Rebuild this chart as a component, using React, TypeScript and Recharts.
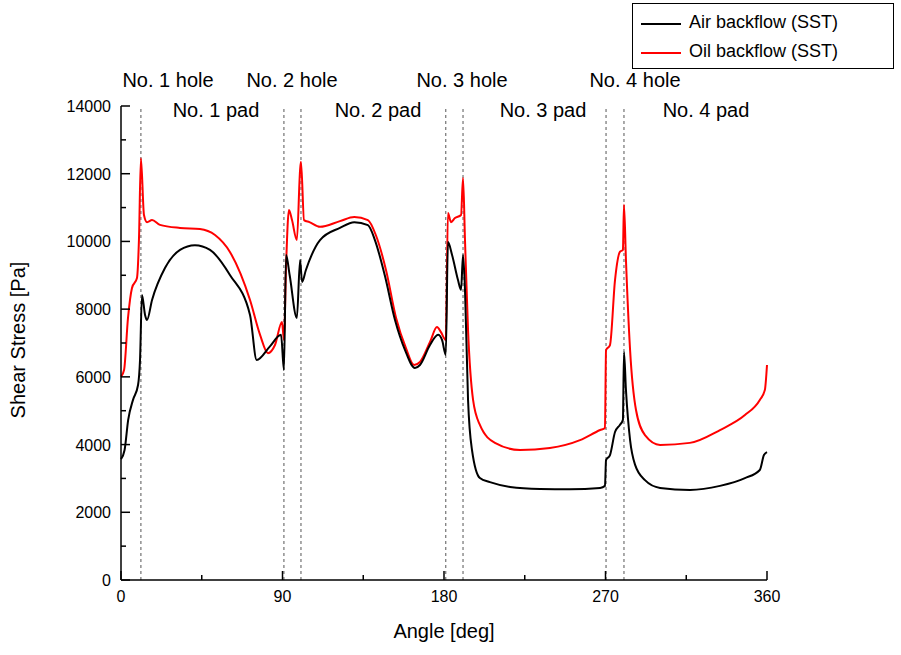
import React from "react";
import { LineChart, Line, XAxis, YAxis, ReferenceLine } from "recharts";

const airAngle = [0,2,4,6.7,9.5,10.6,11.7,13.4,14.5,17.3,24.5,32.9,41.2,49.6,60.7,71.9,75.6,83,89.2,90.8,92,94,98,99.8,100.9,103,110.9,122,130,137.6,141.5,147,152.7,158.3,163.8,166.6,172.2,176.7,178.9,181,182.2,184.5,187.8,189.5,190.6,191.7,193.4,195.6,200,205.6,216.8,233.5,250.2,267,269.7,270.3,272.5,275.3,278,279.7,280.3,281.4,283.7,286.5,292,300.4,317,333.8,347.7,356,358.3,360];
const airStress = [3570,3840,4730,5320,5760,6500,8420,7830,7680,8270,9215,9750,9890,9750,9010,7830,6500,6900,7240,6200,9600,9000,7740,9450,8800,9150,10040,10400,10570,10480,10040,9000,7680,6790,6260,6350,6940,7240,7090,6650,9980,9600,8860,8570,9600,8570,5320,3840,3010,2890,2750,2690,2680,2720,2780,3540,3690,4370,4580,4730,6730,5610,4130,3400,2950,2720,2660,2780,3010,3250,3690,3780];
const oilAngle = [0,1.7,3.9,6.1,8.9,10,11.1,12.8,14.5,17.3,21.7,32.9,44,52.4,60.7,71.9,77.5,81.9,85.8,89.7,90.8,92,93.6,95.3,98,99.8,100.3,102,105,110.9,122,130,137.6,142,147.7,153.3,158.8,163.3,166.6,172.2,176.1,178.3,181,182.2,183.9,186.1,189.5,190.6,191.7,193.4,196.2,200,208.4,222.4,239,255.8,267,269.7,270.3,272.5,275.3,278,279.7,280.3,281.4,283.7,287,292,300.4,317,333.8,347.7,356,358.8,360];
const oilStress = [6000,6200,7740,8620,8920,10040,12460,10780,10570,10630,10490,10400,10370,10190,9690,8270,7240,6700,6940,7620,7090,9300,10930,10630,10040,12110,12350,10630,10570,10430,10600,10720,10630,10190,9150,7740,6850,6350,6440,7030,7470,7320,7090,10840,10570,10690,10780,11870,10040,7380,5320,4580,4050,3840,3900,4130,4430,4490,6790,6940,8860,9690,9750,11080,9450,6790,5020,4280,3990,4050,4430,4870,5320,5610,6350];
const holeAngles = [11.1, 90.8, 100.3, 181, 190.6, 270.3, 280.3];
const xTicks = [0,45,90,135,180,225,270,315,360];
const xLabels = [0,90,180,270,360];
const yTicks = Array.from({ length: 15 }, (_, i) => i * 1000);
const holeLabels = [{ t: "No. 1 hole", x: 168 }, { t: "No. 2 hole", x: 292 }, { t: "No. 3 hole", x: 462 }, { t: "No. 4 hole", x: 635 }];
const padLabels = [{ t: "No. 1 pad", x: 216 }, { t: "No. 2 pad", x: 378 }, { t: "No. 3 pad", x: 543 }, { t: "No. 4 pad", x: 706 }];

const airData = airAngle.map((a, i) => ({ a, v: airStress[i] }));
const oilData = oilAngle.map((a, i) => ({ a, v: oilStress[i] }));
const FONT = "'Liberation Sans', Arial, sans-serif";

const XTick = (p: any) => {
  const v = p.payload.value;
  const major = xLabels.includes(v);
  const y0 = p.y - 8;
  return (
    <g>
      <line x1={p.x} x2={p.x} y1={y0} y2={y0 - (major ? 9 : 5)} stroke="#000" strokeWidth={1.5} />
      {major && <text x={p.x} y={y0 + 22} textAnchor="middle" fontSize={16} fontFamily={FONT} fill="#000">{v}</text>}
    </g>
  );
};
const YTick = (p: any) => {
  const v = p.payload.value;
  const major = v % 2000 === 0;
  const x0 = p.x + 8;
  return (
    <g>
      <line x1={x0} x2={x0 + (major ? 9 : 5)} y1={p.y} y2={p.y} stroke="#000" strokeWidth={1.5} />
      {major && <text x={x0 - 10} y={p.y + 6} textAnchor="end" fontSize={16} fontFamily={FONT} fill="#000">{v}</text>}
    </g>
  );
};

export default function App() {
  const lbl: React.CSSProperties = { position: "absolute", fontFamily: FONT, fontSize: 20, transform: "translateX(-50%)", whiteSpace: "nowrap" };
  return (
    <div style={{ position: "absolute", left: 0, top: 0, width: 901, height: 655, background: "#fff" }}>
      <LineChart width={901} height={655} margin={{ left: 61, top: 106, right: 134, bottom: 45 }}>
        <XAxis type="number" dataKey="a" domain={[0, 360]} ticks={xTicks} tick={<XTick />} tickLine={false} axisLine={{ stroke: "#000", strokeWidth: 1.5 }} height={30} allowDuplicatedCategory={false} />
        <YAxis type="number" dataKey="v" domain={[0, 14000]} ticks={yTicks} tick={<YTick />} tickLine={false} axisLine={{ stroke: "#000", strokeWidth: 1.5 }} width={60} />
        {holeAngles.map((h) => (
          <ReferenceLine key={h} x={h} stroke="#555" strokeDasharray="3 3" strokeWidth={1} />
        ))}
        <Line data={oilData} dataKey="v" stroke="#ff0000" strokeWidth={2} dot={false} isAnimationActive={false} type="monotoneX" />
        <Line data={airData} dataKey="v" stroke="#000" strokeWidth={2} dot={false} isAnimationActive={false} type="monotoneX" />
      </LineChart>
      {holeLabels.map((h) => <div key={h.t} style={{ ...lbl, left: h.x, top: 69 }}>{h.t}</div>)}
      {padLabels.map((h) => <div key={h.t} style={{ ...lbl, left: h.x, top: 99 }}>{h.t}</div>)}
      <div style={{ ...lbl, left: 444, top: 620 }}>Angle [deg]</div>
      <div style={{ position: "absolute", fontFamily: FONT, fontSize: 20, left: 18, top: 340, transform: "translate(-50%,-50%) rotate(-90deg)", whiteSpace: "nowrap" }}>Shear Stress [Pa]</div>
      <div style={{ position: "absolute", left: 632, top: 3, width: 262, height: 66, border: "1px solid #000", boxSizing: "border-box", fontFamily: FONT, fontSize: 18 }}>
        <div style={{ position: "absolute", left: 8, top: 19, width: 40, height: 2, background: "#000" }} />
        <div style={{ position: "absolute", left: 56, top: 8 }}>Air backflow (SST)</div>
        <div style={{ position: "absolute", left: 8, top: 48, width: 40, height: 2, background: "#ff0000" }} />
        <div style={{ position: "absolute", left: 56, top: 37, color: "#000" }}>Oil backflow (SST)</div>
      </div>
    </div>
  );
}
